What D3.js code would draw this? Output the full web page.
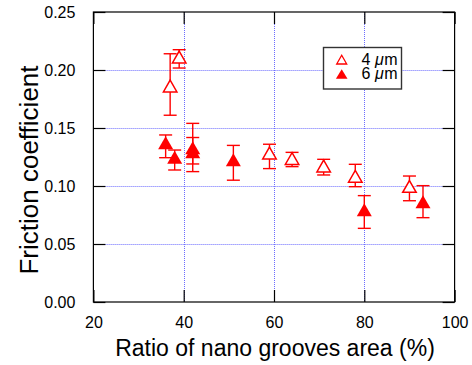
<!DOCTYPE html>
<html><head><meta charset="utf-8">
<script src="https://cdn.jsdelivr.net/npm/d3@7"></script>
<style>body{margin:0;background:#fff}svg{display:block}text{font-family:"Liberation Sans",Arial,sans-serif}</style>
</head><body>
<svg id="c" width="472" height="365"></svg>
<script>
// Data: 4 µm (open triangles)
const x4  = [37, 39, 59, 64, 71, 78, 90];
const y4  = [0.1845, 0.2095, 0.1267, 0.1219, 0.1155, 0.1066, 0.0979];
const lo4 = [0.161, 0.2017, 0.115, 0.1167, 0.1095, 0.0994, 0.0873];
const hi4 = [0.214, 0.2175, 0.136, 0.129, 0.123, 0.1187, 0.1086];
// Data: 6 µm (filled triangles)
const x6  = [36, 38, 42, 42, 51, 80, 93];
const y6  = [0.1353, 0.1228, 0.131, 0.1276, 0.1207, 0.0776, 0.0845];
const lo6 = [0.1244, 0.1138, 0.1124, 0.119, 0.105, 0.0635, 0.0727];
const hi6 = [0.144, 0.131, 0.154, 0.1418, 0.135, 0.0917, 0.1003];
const xTicks = [20, 40, 60, 80, 100];
const yTicks = [0, 0.05, 0.10, 0.15, 0.20, 0.25];
const seriesNames = ["4", "6"];

const svg = d3.select("#c");
const L = 93.4, R = 454.6, T = 12, B = 302;
const x = d3.scaleLinear().domain([20, 100]).range([L, R]);
const y = d3.scaleLinear().domain([0, 0.25]).range([B, T]);
const red = "#ff0000";

// grid
const grid = svg.append("g").attr("stroke", "#6b6bff").attr("stroke-width", 1).attr("stroke-dasharray", "1,1");
xTicks.filter(v => v > 20 && v < 100).forEach(v => {
  grid.append("line").attr("x1", Math.round(x(v)) + 0.5).attr("x2", Math.round(x(v)) + 0.5).attr("y1", T).attr("y2", B);
});
yTicks.filter(v => v > 0 && v < 0.25).forEach(v => {
  grid.append("line").attr("y1", Math.round(y(v)) + 0.5).attr("y2", Math.round(y(v)) + 0.5).attr("x1", L).attr("x2", R);
});

// axes (inside ticks, mirrored)
const tl = 12;
svg.append("g").attr("transform", `translate(0,${B})`)
  .call(d3.axisBottom(x).tickValues(xTicks).tickSize(-tl).tickPadding(tl + 3).tickFormat(d3.format("d")))
  .call(g => g.select(".domain").remove());
svg.append("g").attr("transform", `translate(0,${T})`)
  .call(d3.axisTop(x).tickValues(xTicks).tickSize(-tl).tickFormat(""))
  .call(g => g.select(".domain").remove());
svg.append("g").attr("transform", `translate(${L},0)`)
  .call(d3.axisLeft(y).tickValues(yTicks).tickSize(-tl).tickPadding(tl + 6).tickFormat(d3.format(".2f")))
  .call(g => g.select(".domain").remove());
svg.append("g").attr("transform", `translate(${R},0)`)
  .call(d3.axisRight(y).tickValues(yTicks).tickSize(-tl).tickFormat(""))
  .call(g => g.select(".domain").remove());
svg.selectAll(".tick line").attr("stroke", "#000").attr("stroke-width", 1.2);
svg.selectAll(".tick text").attr("font-size", 16).attr("fill", "#000").attr("font-family", "Liberation Sans, Arial, sans-serif");

// frame
svg.append("rect").attr("x", L).attr("y", T).attr("width", R - L).attr("height", B - T)
  .attr("fill", "none").attr("stroke", "#000").attr("stroke-width", 1.2);

// error bars
function errBars(xs, lo, hi) {
  const g = svg.append("g").attr("stroke", red).attr("stroke-width", 1.4);
  xs.forEach((v, i) => {
    const cx = x(v);
    g.append("line").attr("x1", cx).attr("x2", cx).attr("y1", y(lo[i])).attr("y2", y(hi[i]));
    g.append("line").attr("x1", cx - 6.5).attr("x2", cx + 6.5).attr("y1", y(lo[i])).attr("y2", y(lo[i]));
    g.append("line").attr("x1", cx - 6.5).attr("x2", cx + 6.5).attr("y1", y(hi[i])).attr("y2", y(hi[i]));
  });
}
errBars(x4, lo4, hi4);
errBars(x6, lo6, hi6);

function tri(hw, up, dn) {
  return `M0,${-up}L${hw},${dn}L${-hw},${dn}Z`;
}
// markers
svg.append("g").selectAll("path").data(x4.map((v, i) => [v, y4[i]])).join("path")
  .attr("d", tri(6.75, 7.9, 3.9)).attr("transform", d => `translate(${x(d[0])},${y(d[1])})`)
  .attr("fill", "#fff").attr("stroke", red).attr("stroke-width", 1.5);
svg.append("g").selectAll("path").data(x6.map((v, i) => [v, y6[i]])).join("path")
  .attr("d", tri(7.5, 8.7, 4.3)).attr("transform", d => `translate(${x(d[0])},${y(d[1])})`)
  .attr("fill", red);

// axis titles
svg.append("text").attr("x", (L + R) / 2 + 1).attr("y", 356).attr("text-anchor", "middle")
  .attr("font-size", 23).attr("fill", "#000").text("Ratio of nano grooves area (%)");
svg.append("text").attr("transform", "translate(38,170) rotate(-90)").attr("text-anchor", "middle")
  .attr("font-size", 26).attr("fill", "#000").text("Friction coefficient");

// legend
const lg = svg.append("g");
lg.append("rect").attr("x", 323.5).attr("y", 47.5).attr("width", 78).attr("height", 41.5)
  .attr("fill", "#fff").attr("stroke", "#333").attr("stroke-width", 1.4);
lg.append("path").attr("d", tri(5, 5.8, 3)).attr("transform", "translate(341.7,61)")
  .attr("fill", "#fff").attr("stroke", red).attr("stroke-width", 1.3);
lg.append("path").attr("d", tri(5.8, 6.3, 3.2)).attr("transform", "translate(341.7,75.5)")
  .attr("fill", red);
[64.5, 79].forEach((yy, i) => {
  let cx = 361.5;
  const a = lg.append("text").attr("x", cx).attr("y", yy).attr("font-size", 16).attr("fill", "#000").text(seriesNames[i]);
  cx += a.node().getComputedTextLength() + 4.5;
  const b = lg.append("text").attr("x", cx).attr("y", yy).attr("font-size", 16).attr("font-style", "italic").attr("fill", "#000").text("μ");
  cx += b.node().getComputedTextLength() + 0.5;
  lg.append("text").attr("x", cx).attr("y", yy).attr("font-size", 16).attr("fill", "#000").text("m");
});
</script>
</body></html>
